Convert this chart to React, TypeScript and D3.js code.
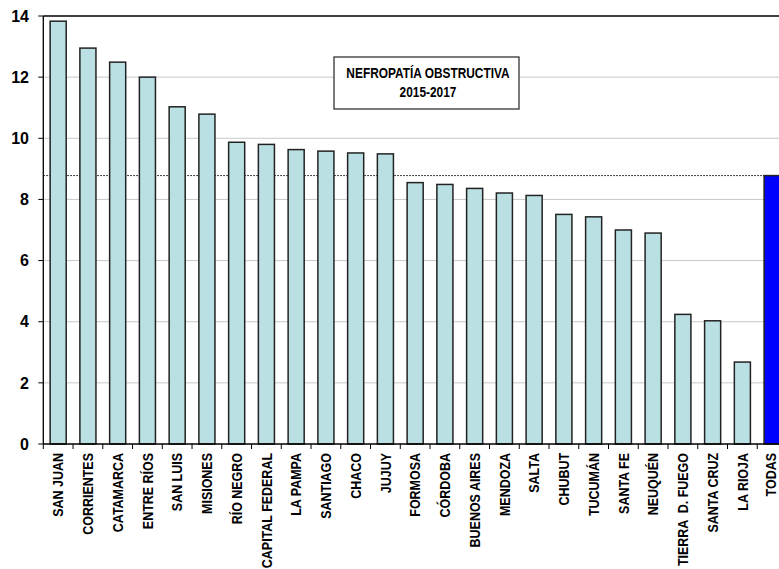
import React from "react";
import { scaleBand, scaleLinear } from "d3";

const provinces = [
  "SAN JUAN", "CORRIENTES", "CATAMARCA", "ENTRE RÍOS", "SAN LUIS", "MISIONES",
  "RÍO NEGRO", "CAPITAL FEDERAL", "LA PAMPA", "SANTIAGO", "CHACO", "JUJUY",
  "FORMOSA", "CÓRDOBA", "BUENOS AIRES", "MENDOZA", "SALTA", "CHUBUT",
  "TUCUMÁN", "SANTA FE", "NEUQUÉN", "TIERRA  D. FUEGO", "SANTA CRUZ", "LA RIOJA",
  "TODAS",
];
const rates = [
  13.83, 12.95, 12.49, 12.0, 11.03, 10.79, 9.87, 9.8, 9.63, 9.58, 9.52, 9.49,
  8.55, 8.49, 8.36, 8.21, 8.13, 7.51, 7.43, 7.0, 6.9, 4.24, 4.03, 2.68, 8.78,
];
const yTicks = [0, 2, 4, 6, 8, 10, 12, 14];
const titleLines = ["NEFROPATÍA OBSTRUCTIVA", "2015-2017"];
const totalLabel = "TODAS";

const W = 779;
const H = 569;
const left = 43.3;
const right = 787;
const top = 16;
const bottom = 444;
const padIn = 0.46;

export default function App() {
  const x = scaleBand<string>()
    .domain(provinces)
    .range([left, right])
    .paddingInner(padIn)
    .paddingOuter(padIn / 2);
  const y = scaleLinear().domain([0, 14]).range([bottom, top]);
  const step = x.step();
  const totalValue = rates[provinces.indexOf(totalLabel)];
  const font = "'Liberation Sans', Arial, sans-serif";

  return (
    <div style={{ position: "absolute", left: 0, top: 0 }}>
      <svg width={W} height={H} style={{ display: "block", background: "#fff" }}>
        {/* gridlines */}
        {yTicks.filter((t) => t > 0 && t < 14).map((t) => (
          <line key={t} x1={left} x2={right} y1={y(t)} y2={y(t)} stroke="#c8c8c8" strokeWidth={1} />
        ))}
        {/* average line */}
        <line
          x1={left} x2={right} y1={y(totalValue)} y2={y(totalValue)}
          stroke="#000" strokeWidth={1} strokeDasharray="1.5,1.5"
        />
        {/* bars */}
        {provinces.map((p, i) => (
          <rect
            key={p}
            x={x(p)}
            y={y(rates[i])}
            width={x.bandwidth()}
            height={bottom - y(rates[i])}
            fill={p === totalLabel ? "#0000ff" : "#bbe0e3"}
            stroke="#222"
            strokeWidth={1.5}
          />
        ))}
        {/* frame */}
        <line x1={left} x2={right} y1={top} y2={top} stroke="#000" strokeWidth={1.5} />
        <line x1={left} x2={left} y1={top} y2={bottom} stroke="#000" strokeWidth={1.3} />
        <line x1={left} x2={right} y1={bottom} y2={bottom} stroke="#000" strokeWidth={1.3} />
        {/* y axis */}
        {yTicks.map((t) => (
          <g key={t}>
            <line x1={left - 5} x2={left} y1={y(t)} y2={y(t)} stroke="#000" strokeWidth={1} />
            <text
              x={29} y={y(t)} dy="0.36em" textAnchor="end"
              fontFamily={font} fontWeight="bold" fontSize={16} fill="#000"
            >
              {t}
            </text>
          </g>
        ))}
        {/* x axis */}
        {provinces.map((p) => {
          const b = (x(p) as number) - (step * padIn) / 2;
          const cx = (x(p) as number) + x.bandwidth() / 2;
          const tx = Math.min(cx + 5.3, W - 3);
          return (
            <g key={p}>
              <line x1={b} x2={b} y1={bottom} y2={bottom + 5} stroke="#000" strokeWidth={1} />
              <text
                transform={`translate(${tx},${bottom + 9}) rotate(-90) scale(0.86,1)`}
                textAnchor="end"
                fontFamily={font} fontWeight="bold" fontSize={14.5} fill="#000"
                style={{ whiteSpace: "pre" }}
              >
                {p}
              </text>
            </g>
          );
        })}
        {/* title box */}
        <rect x={334} y={57} width={185} height={52} fill="#fff" stroke="#333" strokeWidth={1.3} />
        {titleLines.map((t, i) => (
          <text
            key={t}
            transform={`translate(428,${78.3 + i * 19}) scale(0.82,1)`}
            textAnchor="middle"
            fontFamily={font} fontWeight="bold" fontSize={14.5} fill="#000"
          >
            {t}
          </text>
        ))}
      </svg>
    </div>
  );
}
